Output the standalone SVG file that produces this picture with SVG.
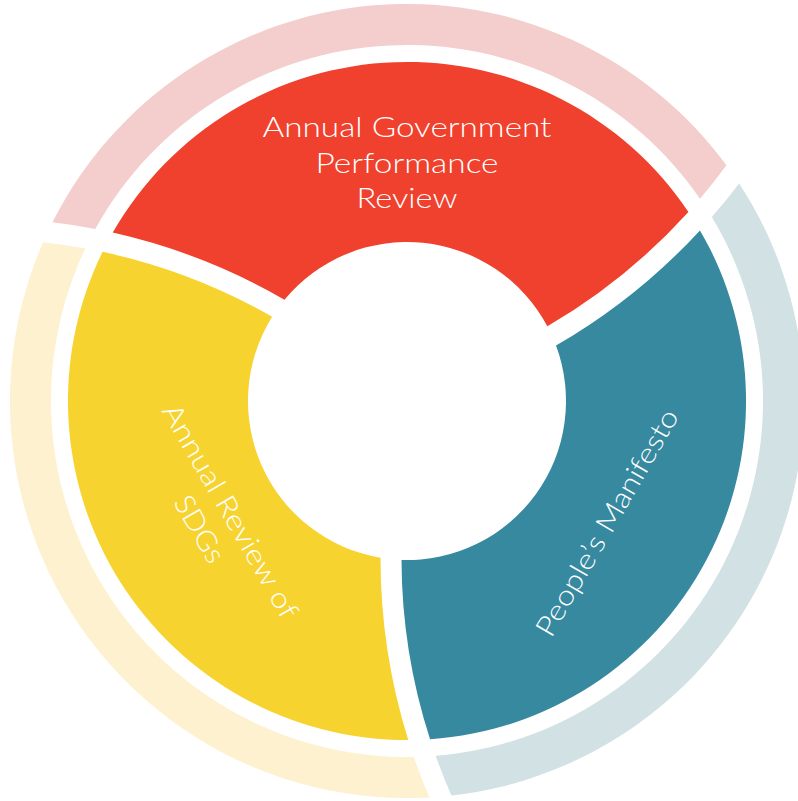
<svg xmlns="http://www.w3.org/2000/svg" xmlns:xlink="http://www.w3.org/1999/xlink" width="798" height="801" viewBox="0 0 798 801">
<style>
.lbl { font-family: Lato, "Open Sans", "Liberation Sans", sans-serif; font-weight: 300; font-size: 28px; fill: #ffffff; text-anchor: middle; }
</style>
<defs>
<path id="seg" d="M380.50,557.79 A610.5,610.5 0 0 0 408.27,740.03 A339,339 0 0 1 102.55,251.85 A589.5,589.5 0 0 1 272.13,316.79 A159,159 0 0 0 380.50,557.79 Z"/>
<path id="band" d="M413.83,756.95 A610.5,610.5 0 0 0 429.40,797.39 A397,397 0 0 1 43.11,242.23 A589.5,589.5 0 0 1 85.33,248.43 A356,356 0 0 0 413.83,756.95 Z"/>
</defs>
<rect x="0" y="0" width="798" height="801" fill="#ffffff"/>
<g id="node-government-review">
  <use href="#band" xlink:href="#band" fill="#F4CDCD" transform="rotate(120 407 401)"/>
  <use href="#seg" xlink:href="#seg" fill="#EF412D" transform="rotate(120 407 401)"/>
  <text class="lbl" x="407" y="137.3" textLength="289" lengthAdjust="spacingAndGlyphs">Annual Government</text>
  <text class="lbl" x="407" y="173.3" textLength="183" lengthAdjust="spacingAndGlyphs">Performance</text>
  <text class="lbl" x="407" y="208.3" textLength="101" lengthAdjust="spacingAndGlyphs">Review</text>
</g>
<g id="node-peoples-manifesto">
  <use href="#band" xlink:href="#band" fill="#D1E1E4" transform="rotate(240 407 401)"/>
  <use href="#seg" xlink:href="#seg" fill="#36899F" transform="rotate(240 407 401)"/>
  <text class="lbl" transform="translate(615.4 527.4) rotate(-60)" x="0" y="0" textLength="257" lengthAdjust="spacingAndGlyphs">People’s Manifesto</text>
</g>
<g id="node-sdg-review">
  <use href="#band" xlink:href="#band" fill="#FEF1CF"/>
  <use href="#seg" xlink:href="#seg" fill="#F7D330"/>
  <text class="lbl" transform="translate(222 516) rotate(60)" x="0" y="0" textLength="243" lengthAdjust="spacingAndGlyphs">Annual Review of</text>
  <text class="lbl" transform="translate(191.3 533.8) rotate(60)" x="0" y="0" textLength="73" lengthAdjust="spacingAndGlyphs">SDGs</text>
</g>
<g id="connectors"></g>
</svg>
